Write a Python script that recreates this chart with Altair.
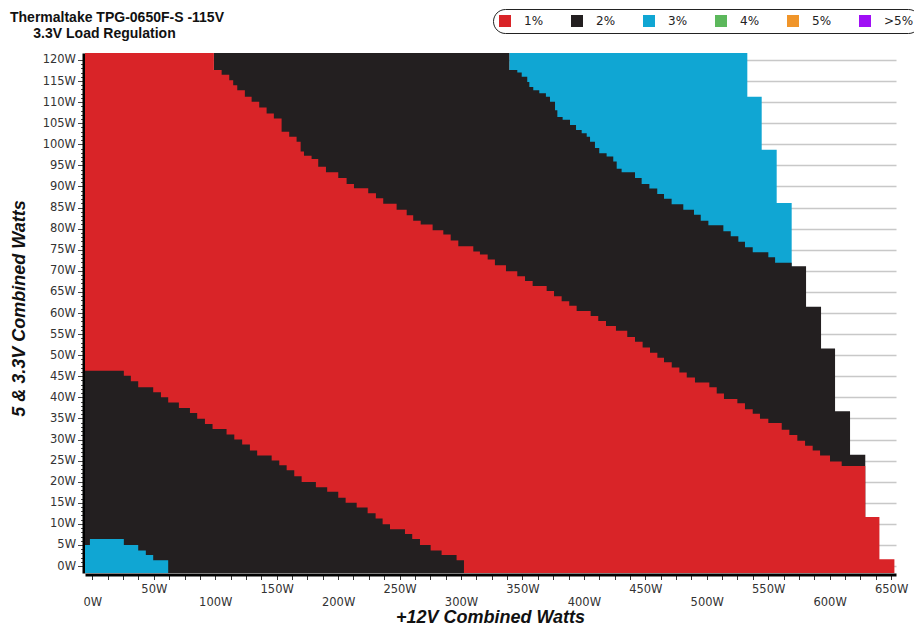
import altair as alt
import pandas as pd

# ---------------- axis ranges / labels ----------------
X_MIN, X_MAX = -6.0, 654.0
Y_MIN, Y_MAX = -1.65, 121.65
X_TICKS = [i * 12.5 for i in range(53)]          # 0 .. 650 W
Y_TICKS = list(range(0, 121))                    # 0 .. 120 W

CATEGORIES = ["1%", "2%", "3%", "4%", "5%", ">5%"]
COLORS = ["#d92428", "#231f20", "#10a6d3", "#5cb85c", "#f0952a", "#a00ff5"]

# ---------------- region boundaries (step functions, Watts) ----------------
# each *_X list has one more entry than *_W : the last one is where the step ends

# 3% region at the top right (up to the load envelope)
BLUE_HI_X = [339.3, 533.0, 544.7, 556.9, 569.1]
BLUE_HI_W = [121.65, 111.3, 98.7, 86.1]

# 2% upper band (top of black band)
BLACK_HI_X = [98.9, 339.3, 345.8, 349.4, 353.9, 355.6, 358.8, 363.7, 369.1, 372.4,
              376.5, 378.4, 382.7, 388.7, 393.6, 398.2, 402.3, 405.0, 409.0, 412.5,
              418.5, 423.9, 426.7, 430.7, 441.6, 447.0, 453.3, 459.7, 465.2, 471.4,
              480.9, 489.6, 495.1, 501.3, 513.5, 519.5, 525.7, 531.1, 537.4, 550.1,
              555.6, 569.1, 580.8, 593.0, 604.4, 616.6, 629.0]
BLACK_HI_W = [121.65, 117.6, 117.0, 116.0, 114.8, 113.6, 112.8, 112.1, 111.3, 110.1,
              108.1, 106.5, 105.8, 104.6, 103.4, 102.6, 101.8, 100.6, 99.1, 97.9,
              97.1, 95.9, 94.2, 93.4, 92.0, 90.6, 89.5, 88.2, 87.1, 85.8,
              84.5, 83.3, 81.9, 80.8, 79.4, 78.2, 76.9, 75.6, 74.4, 73.2,
              71.9, 71.1, 61.5, 51.6, 36.7, 26.4]

# 1% band (top of red band)
RED_X = [-6.0, 98.9, 105.2, 111.4, 114.6, 117.9, 124.1, 129.6, 135.8, 141.8,
         147.7, 154.0, 160.2, 166.2, 169.5, 172.2, 178.4, 183.8, 190.1, 200.1,
         206.9, 212.9, 224.5, 230.8, 236.7, 247.6, 255.8, 261.1, 267.2, 276.9,
         285.6, 291.6, 297.8, 310.0, 315.4, 321.7, 327.6, 336.6, 345.8, 352.1,
         358.3, 369.7, 375.7, 381.9, 388.1, 394.1, 405.5, 411.7, 418.0, 426.1,
         435.3, 441.6, 447.8, 453.8, 459.8, 465.2, 471.5, 477.7, 483.7, 490.4,
         502.1, 508.1, 514.0, 524.9, 531.1, 537.4, 543.3, 550.1, 561.0, 567.2,
         573.7, 580.0, 586.2, 592.2, 600.3, 609.8, 629.0, 640.5, 652.7]
RED_W = [121.65, 117.6, 116.5, 115.2, 114.0, 112.8, 111.3, 110.1, 108.7, 107.3,
         106.1, 103.0, 101.8, 100.6, 98.3, 97.3, 96.5, 94.7, 93.4, 92.0,
         90.6, 89.6, 88.4, 87.2, 85.9, 84.5, 83.2, 81.9, 81.0, 79.6,
         78.6, 77.2, 75.8, 74.6, 73.9, 72.7, 71.3, 69.9, 68.7, 67.6,
         66.4, 65.2, 64.0, 62.8, 61.7, 60.5, 59.3, 58.1, 56.9, 55.8,
         54.3, 53.2, 51.8, 50.6, 49.4, 48.3, 47.1, 45.9, 44.7, 43.5,
         42.4, 40.9, 39.6, 38.6, 37.2, 36.1, 34.9, 33.9, 32.3, 31.1,
         29.7, 28.5, 27.4, 26.2, 24.8, 23.7, 11.6, 1.6]

# 2% lower band (top of lower black band)
BLACK_LO_X = [-6.0, 25.6, 31.3, 37.3, 49.5, 55.8, 61.7, 70.4, 79.4, 85.3,
              91.6, 97.8, 109.2, 115.5, 121.9, 128.2, 134.1, 145.9, 152.1, 158.1,
              164.3, 170.3, 181.9, 191.1, 200.1, 206.1, 215.1, 224.0, 230.5, 236.2,
              242.2, 254.4, 260.3, 266.6, 275.3, 284.2, 296.4, 302.4]
BLACK_LO_W = [46.3, 45.1, 43.8, 42.4, 41.2, 40.0, 38.8, 37.5, 36.3, 34.9,
              33.7, 32.5, 31.2, 30.0, 28.8, 27.4, 26.2, 25.0, 23.9, 22.7,
              21.3, 19.9, 18.7, 17.6, 16.2, 15.0, 13.9, 12.5, 11.3, 9.9,
              8.7, 7.6, 6.4, 5.0, 3.7, 2.6, 1.4]

# 3% region at the bottom left
BLUE_LO_X = [-6.0, -2.0, 25.6, 37.3, 43.5, 49.5, 61.7]
BLUE_LO_W = [5.0, 6.4, 5.0, 3.7, 2.6, 1.4]


def steps(xs, ws, cat):
    rows = [{"x": x, "top": w, "base": Y_MIN, "cat": cat} for x, w in zip(xs, ws)]
    rows.append({"x": xs[-1], "top": ws[-1], "base": Y_MIN, "cat": cat})
    return pd.DataFrame(rows)


layers_data = [
    steps(BLUE_HI_X, BLUE_HI_W, "3%"),
    steps(BLACK_HI_X, BLACK_HI_W, "2%"),
    steps(RED_X, RED_W, "1%"),
    steps(BLACK_LO_X, BLACK_LO_W, "2%"),
    steps(BLUE_LO_X, BLUE_LO_W, "3%"),
]

x_enc = alt.X(
    "x:Q",
    scale=alt.Scale(domain=[X_MIN, X_MAX], nice=False, zero=False),
    title="+12V Combined Watts",
    axis=alt.Axis(
        values=X_TICKS,
        labelExpr="datum.value % 100 === 0 ? ['', datum.value + 'W'] : (datum.value % 50 === 0 ? datum.value + 'W' : '')",
        labelOverlap=False, labelBound=False, labelFlush=False,
        labelFont="DejaVu Sans", labelFontSize=11.5, labelColor="#333",
        labelPadding=4, labelLineHeight=12.5,
        tickSize=5, tickColor="#333", tickWidth=1,
        domainColor="#000", domainWidth=3, offset=1.5,
        grid=False,
        titleFont="Liberation Sans", titleFontSize=18, titleFontWeight="bold",
        titleFontStyle="italic", titleColor="#111",
        titleX=405, titleY=43, titleAlign="center", titleBaseline="middle",
    ),
)

y_enc = alt.Y(
    "top:Q",
    scale=alt.Scale(domain=[Y_MIN, Y_MAX], nice=False, zero=False),
    title="5 & 3.3V Combined Watts",
    axis=alt.Axis(
        values=Y_TICKS,
        labelExpr="datum.value % 5 === 0 ? datum.value + 'W' : ''",
        labelOverlap=False, labelBound=False, labelFlush=False,
        labelFont="DejaVu Sans", labelFontSize=11.5, labelColor="#333",
        labelPadding=2,
        tickSize={"condition": {"test": "datum.value % 5 === 0", "value": 6}, "value": 3},
        tickColor="#444", tickWidth=1,
        domainColor="#000", domainWidth=3, offset=1.5,
        grid=True, gridColor="#c8c8c8", gridWidth=1.5,
        gridOpacity={"condition": {"test": "datum.value % 5 === 0", "value": 1}, "value": 0},
        titleFont="Liberation Sans", titleFontSize=18, titleFontWeight="bold",
        titleFontStyle="italic", titleColor="#111",
        titleX=-64, titleY=255, titleAlign="center", titleBaseline="middle", titleAngle=270,
    ),
)

color_enc = alt.Color(
    "cat:N",
    scale=alt.Scale(domain=CATEGORIES, range=COLORS),
    legend=alt.Legend(
        title=None, orient="none", legendX=408, legendY=-44,
        direction="horizontal", columns=6, gridAlign="all",
        symbolType="square", symbolSize=144, symbolStrokeWidth=0, symbolOpacity=1,
        labelFont="DejaVu Sans", labelFontSize=12, labelColor="#222",
        labelOffset=13, columnPadding=17, padding=6,
        fillColor="#ffffff", strokeColor="#222", cornerRadius=12,
    ),
)

layers = [
    alt.Chart(df).mark_area(interpolate="step-after", opacity=1, clip=True).encode(
        x=x_enc, y=y_enc, y2=alt.Y2("base:Q"), color=color_enc
    )
    for df in layers_data
]

chart = alt.layer(*layers).properties(
    width=811,
    height=520,
    title=alt.TitleParams(
        text=["Thermaltake TPG-0650F-S -115V", "\u200b" + "\u00a0" * 6 + "3.3V Load Regulation"],
        anchor="start", frame="group", dx=-75, dy=32, offset=0, baseline="top",
        font="Liberation Sans", fontSize=14, fontWeight="bold", color="#111",
        lineHeight=16,
    ),
    autosize=alt.AutoSizeParams(type="none"),
    padding={"left": 77, "top": 45, "right": 18, "bottom": 54},
).configure_view(stroke=None)

chart.save("out.html", embed_options={"renderer": "svg", "actions": False})
